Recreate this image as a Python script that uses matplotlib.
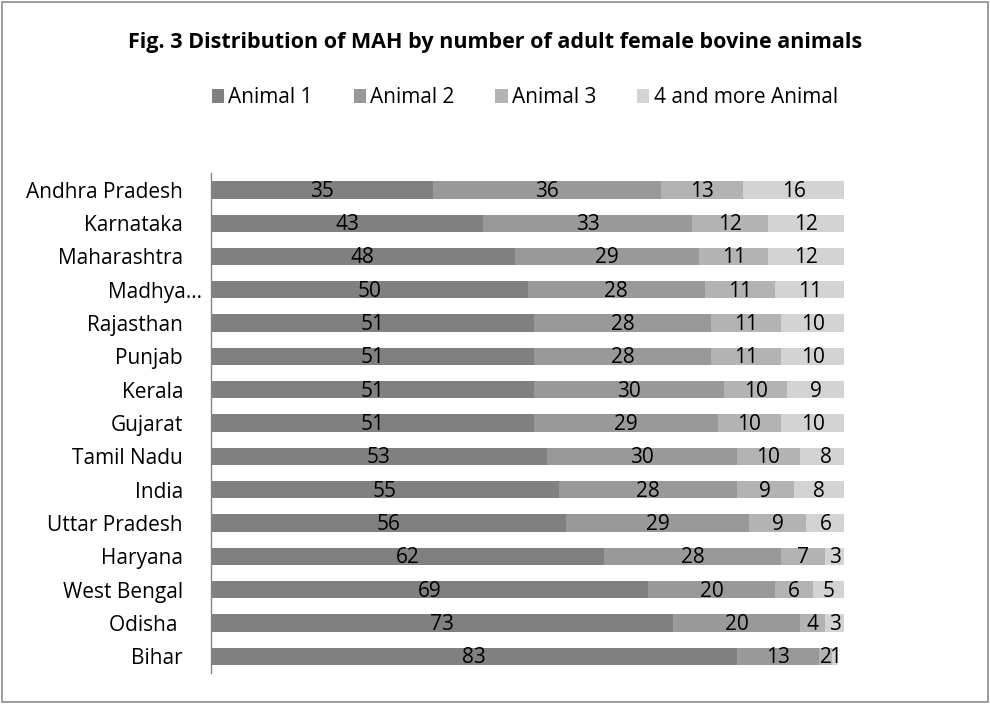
import matplotlib.pyplot as plt
from matplotlib.patches import Rectangle
from matplotlib.transforms import ScaledTranslation
import numpy as np

plt.rcParams['font.family'] = ['Open Sans', 'DejaVu Sans']

states = ['Andhra Pradesh', 'Karnataka', 'Maharashtra', 'Madhya\u2026', 'Rajasthan',
          'Punjab', 'Kerala', 'Gujarat', 'Tamil Nadu', 'India', 'Uttar Pradesh',
          'Haryana', 'West Bengal', 'Odisha ', 'Bihar']
animal_1 = [35, 43, 48, 50, 51, 51, 51, 51, 53, 55, 56, 62, 69, 73, 83]
animal_2 = [36, 33, 29, 28, 28, 28, 30, 29, 30, 28, 29, 28, 20, 20, 13]
animal_3 = [13, 12, 11, 11, 11, 11, 10, 10, 10, 9, 9, 7, 6, 4, 2]
animal_4 = [16, 12, 12, 11, 10, 10, 9, 10, 8, 8, 6, 3, 5, 3, 1]

series = ['Animal 1', 'Animal 2', 'Animal 3', '4 and more Animal']
colors = ['#808080', '#999999', '#b3b3b3', '#d3d3d3']

fig = plt.figure(figsize=(9.9, 7.04), dpi=100)
# chart border
fig.patches.append(Rectangle((0.002, 0.003), 0.996, 0.994, transform=fig.transFigure,
                             fill=False, edgecolor='#8c8c8c', linewidth=1.2))

ax = fig.add_axes([0.213, 0.044, 0.640, 0.710])

y = np.arange(len(states))
left = np.zeros(len(states))
for name, vals, col in zip(series, [animal_1, animal_2, animal_3, animal_4], colors):
    vals = np.array(vals, dtype=float)
    ax.barh(y, vals, left=left, height=0.52, color=col, label=name)
    for yi, l, v in zip(y, left, vals):
        ax.text(l + v / 2, yi + 0.04, f'{int(v)}', ha='center', va='center',
                fontsize=15, color='black')
    left += vals

ax.set_ylim(len(states) - 0.5, -0.5)
ax.set_xlim(0, 100)
ax.set_yticks(y)
ax.set_yticklabels(states, fontsize=15)
ax.tick_params(axis='y', length=0, pad=20)
ax.set_xticks([])
for s in ['top', 'right', 'bottom']:
    ax.spines[s].set_visible(False)
ax.spines['left'].set_color('#868686')
ax.spines['left'].set_linewidth(1)

# the truncated label sits closer to the axis
lbl = ax.get_yticklabels()[3]
lbl.set_transform(lbl.get_transform() + ScaledTranslation(0.19, 0, fig.dpi_scale_trans))

fig.text(0.5, 0.939, 'Fig. 3 Distribution of MAH by number of adult female bovine animals',
         ha='center', va='center', fontsize=15.5, fontweight='bold')

fig.legend(loc='center', bbox_to_anchor=(0.53, 0.861), ncol=4, frameon=False,
           fontsize=15, handlelength=0.6, handleheight=0.6, handletextpad=0.2,
           columnspacing=1.95)

fig.savefig('out.png', dpi=100)
